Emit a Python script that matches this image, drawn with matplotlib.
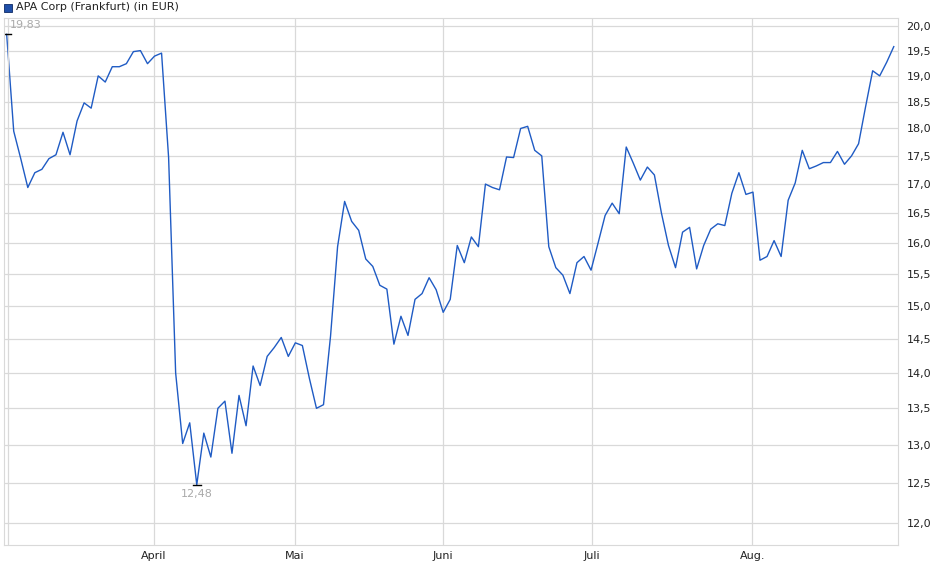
import matplotlib
matplotlib.use("Agg")
import matplotlib.pyplot as plt
from matplotlib.ticker import FixedLocator, NullLocator, FuncFormatter
import matplotlib.patches as mpatches

prices = [19.83, 17.95, 17.45, 16.94, 17.2, 17.26, 17.45, 17.52, 17.93, 17.52,
          18.14, 18.48, 18.38, 19.0, 18.88, 19.18, 19.18, 19.24, 19.48, 19.5,
          19.24, 19.39, 19.45, 17.47, 14.0, 13.02, 13.3, 12.48, 13.16, 12.84,
          13.5, 13.6, 12.89, 13.68, 13.26, 14.1, 13.82, 14.24, 14.37, 14.52,
          14.24, 14.44, 14.4, 13.92, 13.5, 13.55, 14.54, 15.94, 16.70, 16.36,
          16.21, 15.74, 15.62, 15.32, 15.26, 14.42, 14.84, 14.55, 15.1, 15.19,
          15.44, 15.25, 14.9, 15.1, 15.96, 15.68, 16.1, 15.94, 17.0, 16.94,
          16.9, 17.48, 17.47, 18.0, 18.04, 17.6, 17.5, 15.94, 15.6, 15.48,
          15.19, 15.68, 15.78, 15.56, 16.0, 16.46, 16.67, 16.49, 17.66, 17.37,
          17.07, 17.3, 17.16, 16.5, 15.96, 15.6, 16.18, 16.26, 15.58, 15.96,
          16.23, 16.32, 16.29, 16.84, 17.2, 16.82, 16.86, 15.72, 15.78, 16.04,
          15.78, 16.72, 17.02, 17.6, 17.27, 17.32, 17.38, 17.38, 17.58, 17.35,
          17.5, 17.72, 18.41, 19.1, 19.0, 19.27, 19.58]
month_labels = ["April", "Mai", "Juni", "Juli", "Aug."]
month_pos = [20.9, 40.95, 61.97, 83.1, 105.9]
y_ticks = [12.0, 12.5, 13.0, 13.5, 14.0, 14.5, 15.0, 15.5, 16.0, 16.5,
           17.0, 17.5, 18.0, 18.5, 19.0, 19.5, 20.0]
title = "APA Corp (Frankfurt) (in EUR)"

fig = plt.figure(figsize=(9.4, 5.79), dpi=100)
ax = fig.add_axes([4/940, 1-545/579, 894/940, 527/579])
x = list(range(len(prices)))
ax.plot(x, prices, color="#1f5bc4", lw=1.0)
ax.set_yscale("log")
ax.set_ylim(11.73, 20.165)
ax.set_xlim(-0.38, 126.6)
ax.yaxis.set_major_locator(FixedLocator(y_ticks))
ax.yaxis.set_minor_locator(NullLocator())
ax.yaxis.set_major_formatter(FuncFormatter(lambda v, p: f"{v:.1f}".replace(".", ",")))
ax.yaxis.tick_right()
ax.set_xticks(month_pos)
ax.set_xticklabels(month_labels)
ax.tick_params(axis="both", length=0, labelsize=8, colors="#222222")
ax.tick_params(axis="y", pad=6)
ax.tick_params(axis="x", pad=4)
ax.grid(True, color="#d9d9d9", lw=0.9)
ax.axvline(0.15, color="#d9d9d9", lw=0.9)
for s in ax.spines.values():
    s.set_color("#d9d9d9")
ax.set_axisbelow(True)

imax = 0
imin = prices.index(min(prices))
ax.plot([imax - 0.6, imax + 0.6], [prices[imax]] * 2, color="black", lw=1)
ax.plot([imin - 0.6, imin + 0.6], [prices[imin]] * 2, color="black", lw=1)
ax.annotate(f"{prices[imax]:.2f}".replace(".", ","), (imax, prices[imax]), xytext=(2, 3),
            textcoords="offset points", fontsize=8, color="#aaaaaa", ha="left", va="bottom")
ax.annotate(f"{prices[imin]:.2f}".replace(".", ","), (imin, prices[imin]), xytext=(0, -3),
            textcoords="offset points", fontsize=8, color="#aaaaaa", ha="center", va="top")

fig.patches.append(mpatches.Rectangle((4/940, 1-12/579), 8/940, 8/579,
                                      transform=fig.transFigure, facecolor="#1f4fa8",
                                      edgecolor="#0d2a66", lw=0.6))
fig.text(16/940, 1-7/579, title, fontsize=8, va="center", ha="left", color="#222222")
fig.savefig("out.png", dpi=100)
